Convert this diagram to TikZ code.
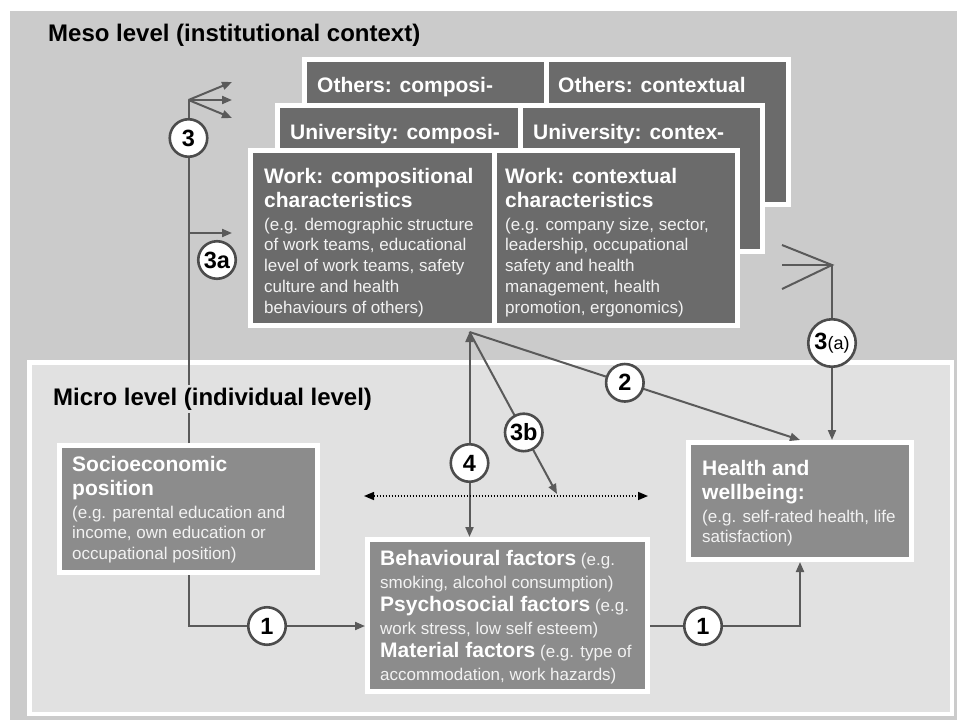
\documentclass[tikz,border=0pt]{standalone}
\usepackage{fontspec}
\setmainfont{Liberation Sans}
\usetikzlibrary{arrows.meta,calc,shadows}
\definecolor{mesobg}{HTML}{CBCBCB}
\definecolor{microbg}{HTML}{E1E1E1}
\definecolor{carddark}{HTML}{6B6B6B}
\definecolor{boxmid}{HTML}{8C8C8C}
\definecolor{linegray}{HTML}{5A5A5A}
\definecolor{circgray}{HTML}{4C4C4C}
\definecolor{bodytxt}{HTML}{F2F2F2}
\begin{document}
\begin{tikzpicture}[x=1pt,y=-1pt,
  shad/.style={drop shadow={shadow xshift=1.2pt, shadow yshift=-1.5pt, opacity=0.25, fill=black}},
  card/.style={draw=white, line width=5pt, fill=carddark, inner sep=0pt, shad},
  midbox/.style={draw=white, line width=5pt, fill=boxmid, inner sep=0pt, shad},
  hdr/.style={inner sep=0pt, text=white, align=left, font=\fontsize{21}{24}\selectfont\bfseries},
  bdy/.style={inner sep=0pt, text=bodytxt, align=left, font=\fontsize{17}{20.8}\selectfont},
  conn/.style={draw=linegray, line width=2pt},
  arr/.style={-{Triangle[length=10pt,width=8pt]}},
  num/.style={circle, draw=circgray, fill=white, line width=2.6pt, minimum size=37.5pt, inner sep=0pt, font=\fontsize{23.5}{23.5}\selectfont\bfseries},
  dotline/.style={draw=black, line width=1.5pt, dash pattern=on 1.5pt off 1.5pt, {Triangle[length=10pt,width=8pt]}-{Triangle[length=10pt,width=8pt]}},
  ttl/.style={font=\fontsize{24}{24}\selectfont\bfseries, text=black}
]
\useasboundingbox (0,0) rectangle (957,720);
\fill[white] (0,0) rectangle (957,720);
\fill[mesobg] (10,11) rectangle (957,720);
\draw[draw=white, line width=4.5pt, fill=microbg] (29.5,362.5) rectangle (952,714);

\node[ttl, anchor=base west, inner sep=0pt] (meso) at (48,41) {Meso level (institutional context)};

% stacked cards
\node[card, minimum width=242pt, minimum height=145pt] (oc) at (425.5,132) {};
\node[card, minimum width=242pt, minimum height=145pt] (ox) at (667.5,132) {};
\node[hdr, anchor=base west] (octx) at (317,92) {Others: composi-};
\node[hdr, anchor=base west] (oxtx) at (558,92) {Others: contextual};
\node[card, minimum width=243pt, minimum height=146pt] (uc) at (399,178.5) {};
\node[card, minimum width=242pt, minimum height=146pt] (ux) at (641.5,178.5) {};
\node[hdr, anchor=base west] (uctx) at (290,139) {University: composi-};
\node[hdr, anchor=base west] (uxtx) at (533,139) {University: contex-};
\node[card, minimum width=244pt, minimum height=175pt] (wc) at (372.5,238) {};
\node[card, minimum width=243pt, minimum height=175pt] (wx) at (616,238) {};
\node[hdr, anchor=north west] (wch) at (264,167.7) {Work: compositional\\characteristics};
\node[bdy, anchor=north west] (wcb) at (264,217.6) {(e.g. demographic structure\\of work teams, educational\\level of work teams, safety\\culture and health\\behaviours of others)};
\node[hdr, anchor=north west] (wxh) at (505,167.7) {Work: contextual\\characteristics};
\node[bdy, anchor=north west] (wxb) at (505,217.6) {(e.g. company size, sector,\\leadership, occupational\\safety and health\\management, health\\promotion, ergonomics)};

% micro boxes
\node[midbox, minimum width=258pt, minimum height=127pt] (soc) at (188.5,509) {};
\node[hdr, anchor=north west] (soch) at (72,455.7) {Socioeconomic\\position};
\node[bdy, anchor=north west] (socb) at (72,505.6) {(e.g. parental education and\\income, own education or\\occupational position)};
\node[midbox, minimum width=280pt, minimum height=152pt] (beh) at (507.5,615.5) {};
\node[bdy, anchor=north west, font=\fontsize{17}{23}\selectfont] (behb) at (380,549.7) {{\color{white}\fontsize{21}{23}\selectfont\bfseries Behavioural factors} (e.g.\\smoking, alcohol consumption)\\{\color{white}\fontsize{21}{23}\selectfont\bfseries Psychosocial factors} (e.g.\\work stress, low self esteem)\\{\color{white}\fontsize{21}{23}\selectfont\bfseries Material factors} (e.g. type of\\accommodation, work hazards)};
\node[midbox, minimum width=223pt, minimum height=117pt] (hw) at (800,501) {};
\node[hdr, anchor=north west] (hwh) at (702,459.7) {Health and\\wellbeing:};
\node[bdy, anchor=north west] (hwb) at (702,509.6) {(e.g. self-rated health, life\\satisfaction)};

% coordinates
\coordinate (v3) at (188.5,100);
\coordinate (f31) at (232,82);
\coordinate (f32) at (232,100);
\coordinate (f33) at (232,118);
\coordinate (h3a) at (188.5,233);
\coordinate (h3aT) at (232,233);
\coordinate (j) at ($(wc.south west)+(221.5,4)$);
\coordinate (t3b) at (557,494);
\coordinate (dl) at (364,496);
\coordinate (dr) at (648,496);
\coordinate (vA) at (832,265);
\coordinate (fA1) at (782,245);
\coordinate (fA2) at (782,265);
\coordinate (fA3) at (782,289);
\coordinate (p1a) at (267,626);
\coordinate (p1b) at (703,626);

% connectors
\draw[conn] (soc.north) -- (v3);
\draw[conn,arr] (v3) -- (f31);
\draw[conn,arr] (v3) -- (f32);
\draw[conn,arr] (v3) -- (f33);
\draw[conn,arr] (h3a) -- (h3aT);
\draw[conn] (soc.south) |- (p1a);
\draw[conn,arr] (p1a) -- (p1a -| beh.west);
\draw[conn] (p1b -| beh.east) -- (p1b);
\draw[conn,arr] (p1b) -| (hw.south);
\draw[conn,{Triangle[length=10pt,width=8pt]}-{Triangle[length=10pt,width=8pt]}] (j) -- (j |- beh.north);
\draw[conn,arr] (j) -- (hw.north);
\draw[conn,arr] (j) -- (t3b);
\draw[dotline] (dl) -- (dr);
\draw[conn] (fA1) -- (vA) -- (fA3);
\draw[conn] (fA2) -- (vA);
\draw[conn,arr] (vA) -- (vA |- hw.north);

\node[ttl, anchor=base west, fill=microbg, inner sep=3pt] (micro) at (50,405) {Micro level (individual level)};

% numbered circles
\node[num] (c3) at (188.5,138) {3};
\node[num] (c3a) at (217,260) {3a};
\node[num, minimum size=47.5pt] (c3A) at (832,343) {3\fontsize{18}{18}\selectfont\mdseries(a)};
\node[num] (c2) at ($(j)!0.47!(hw.north)$) {2};
\node[num] (c3b) at ($(j)!0.62!(t3b)$) {3b};
\node[num] (c4) at (j |- 0,463) {4};
\node[num] (c1a) at (p1a) {1};
\node[num] (c1b) at (p1b) {1};
\end{tikzpicture}
\end{document}
